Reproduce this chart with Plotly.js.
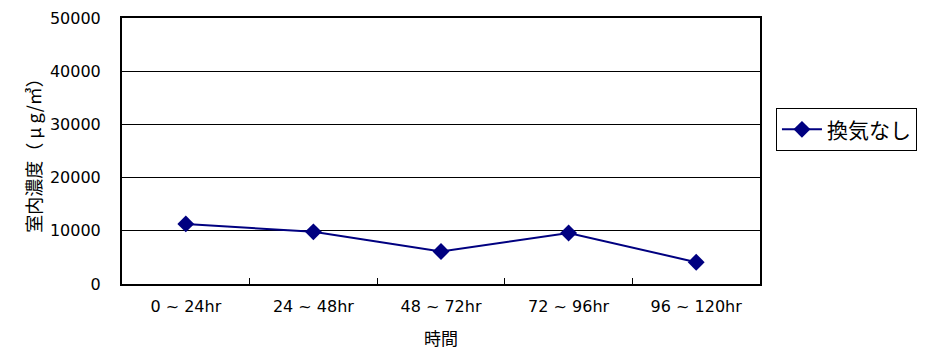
<!DOCTYPE html>
<html>
<head>
<meta charset="utf-8">
<script src="https://cdn.plot.ly/plotly-3.0.1.min.js"></script>
<style>html,body{margin:0;padding:0;background:#fff;}#chart{width:943px;height:358px;}</style>
</head>
<body>
<div id="chart"></div>
<script>
const categories = ["0 ~ 24hr", "24 ~ 48hr", "48 ~ 72hr", "72 ~ 96hr", "96 ~ 120hr"];
const seriesName = "換気なし";
const values = [11300, 9800, 6100, 9600, 4100];
const yTicks = [0, 10000, 20000, 30000, 40000, 50000];
const yTickText = ["0", "10000", "20000", "30000", "40000", "50000"];

const tickFont = {family: "DejaVu Sans, Liberation Sans, sans-serif", size: 16, color: "#000"};
const cjkFont = "Noto Sans CJK JP, sans-serif";

const trace = {
  x: categories,
  y: values,
  name: seriesName,
  type: "scatter",
  mode: "lines+markers",
  line: {color: "#000080", width: 2},
  marker: {symbol: "diamond", size: 13, color: "#000080"}
};

const layout = {
  width: 943, height: 358,
  margin: {l: 122, r: 183, t: 18, b: 74},
  paper_bgcolor: "#fff", plot_bgcolor: "#fff",
  showlegend: true,
  legend: {
    x: 1.025, xanchor: "left", y: 0.58, yanchor: "middle",
    bordercolor: "#000", borderwidth: 1,
    font: {family: cjkFont, size: 21, color: "#000"},
    itemwidth: 40,
    tracegroupgap: 0
  },
  xaxis: {
    type: "category",
    range: [-0.5, 4.5],
    autorange: false,
    tickvals: categories, ticktext: categories,
    tickson: "boundaries",
    ticks: "inside", ticklen: 6, tickcolor: "#000", tickwidth: 1,
    showline: true, linecolor: "#000", linewidth: 2, mirror: true,
    showgrid: false, zeroline: false,
    tickfont: tickFont,
    ticklabelstandoff: 7,
    title: {text: "時間", font: {family: cjkFont, size: 17, color: "#000"}, standoff: 18}
  },
  yaxis: {
    range: [0, 50000],
    autorange: false,
    tickvals: yTicks, ticktext: yTickText,
    ticks: "",
    showline: true, linecolor: "#000", linewidth: 2, mirror: true,
    showgrid: true, gridcolor: "#000", gridwidth: 1.3,
    zeroline: false,
    tickfont: tickFont,
    ticklabelstandoff: 16,
    title: {text: "室内濃度（ μ g/㎥）", font: {family: cjkFont, size: 18, color: "#000"}, standoff: 4}
  }
};

Plotly.newPlot("chart", [trace], layout, {displayModeBar: false, staticPlot: true});
</script>
</body>
</html>
